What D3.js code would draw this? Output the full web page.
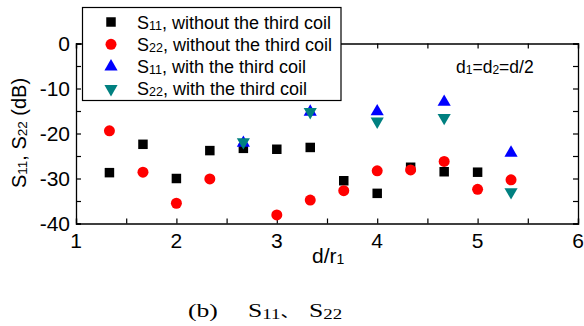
<!DOCTYPE html>
<html>
<head>
<meta charset="utf-8">
<script src="https://cdn.jsdelivr.net/npm/d3@7"></script>
<style>
  body { margin: 0; background: #fff; }
</style>
</head>
<body>
<div id="chart"></div>
<script>
// x positions d/r1
var xS11 = [1.333, 1.667, 2, 2.333, 2.667, 3, 3.333, 3.667, 4, 4.333, 4.667, 5];
var s11Without = [-28.7, -22.4, -30.0, -23.8, -23.3, -23.5, -23.1, -30.5, -33.3, -27.5, -28.5, -28.6];
var xS22 = [1.333, 1.667, 2, 2.333, 3, 3.333, 3.667, 4, 4.333, 4.667, 5, 5.333];
var s22Without = [-19.4, -28.6, -35.5, -30.1, -38.1, -34.8, -32.7, -28.3, -28.1, -26.2, -32.4, -30.3];
var xWith = [2.667, 3.333, 4, 4.667, 5.333];
var s11With = [-22.0, -15.1, -15.0, -12.9, -24.2];
var s22With = [-22.0, -15.3, -17.4, -16.6, -33.1];
var xTicks = [1, 2, 3, 4, 5, 6];
var yTicks = [0, -10, -20, -30, -40];
var legendLabels = [
  ["S", "11", ", without the third coil"],
  ["S", "22", ", without the third coil"],
  ["S", "11", ", with the third coil"],
  ["S", "22", ", with the third coil"]
];

function dotChart(parent, width, height) {
  var _Width = width,
      _Height = height,
      left = 76, right = 578, top = 43.5, bottom = 223.5,
      sans = "'Liberation Sans', Arial, sans-serif",
      serif = "'Liberation Serif', 'Times New Roman', serif";

  var svg = d3.select(parent)
    .append("svg")
    .attr("width", _Width)
    .attr("height", _Height)
    .style("font-family", sans);

  var x = d3.scaleLinear().domain([1, 6]).range([left, right]);
  var y = d3.scaleLinear().domain([-40, 0]).range([bottom, top]);

  // frame, ticks pointing inward on all four sides
  var xt5 = d3.range(1, 6.01, 0.5), yt5 = d3.range(-40, 0.01, 5);
  svg.append("g").attr("transform", "translate(0," + bottom + ")")
    .call(d3.axisBottom(x).tickValues(xt5).tickSize(-5).tickFormat(""));
  svg.append("g").attr("transform", "translate(0," + top + ")")
    .call(d3.axisTop(x).tickValues(xt5).tickSize(-5).tickFormat(""));
  svg.append("g").attr("transform", "translate(" + left + ",0)")
    .call(d3.axisLeft(y).tickValues(yt5).tickSize(-5).tickFormat(""));
  svg.append("g").attr("transform", "translate(" + right + ",0)")
    .call(d3.axisRight(y).tickValues(yt5).tickSize(-5).tickFormat(""));
  svg.selectAll(".domain").attr("stroke", "#000").attr("stroke-width", 1.3);
  svg.selectAll(".tick line").attr("stroke", "#000").attr("stroke-width", 1.2);

  // tick labels
  svg.selectAll(".xl").data(xTicks).enter().append("text")
    .attr("x", function(d) { return x(d); })
    .attr("y", bottom + 24)
    .attr("text-anchor", "middle")
    .attr("font-size", 21)
    .text(function(d) { return d; });
  svg.selectAll(".yl").data(yTicks).enter().append("text")
    .attr("x", left - 6)
    .attr("y", function(d) { return y(d) + 7; })
    .attr("text-anchor", "end")
    .attr("font-size", 21)
    .text(function(d) { return d; });

  // axis titles
  var xt = svg.append("text").attr("x", 312).attr("y", 263).attr("font-size", 21);
  xt.append("tspan").text("d/r");
  xt.append("tspan").attr("font-size", 14).attr("dy", 1).text("1");

  var yt = svg.append("text").attr("transform", "translate(26,133) rotate(-90)")
    .attr("text-anchor", "middle").attr("font-size", 20);
  yt.append("tspan").text("S");
  yt.append("tspan").attr("font-size", 13.5).attr("dy", 1).text("11");
  yt.append("tspan").attr("dy", -1).text(", S");
  yt.append("tspan").attr("font-size", 13.5).attr("dy", 1).text("22");
  yt.append("tspan").attr("dy", -1).text(" (dB)");

  // annotation
  var an = svg.append("text").attr("x", 456).attr("y", 73).attr("font-size", 17.5);
  an.append("tspan").text("d");
  an.append("tspan").attr("font-size", 12).attr("dy", 1).text("1");
  an.append("tspan").attr("dy", -1).text("=d");
  an.append("tspan").attr("font-size", 12).attr("dy", 1).text("2");
  an.append("tspan").attr("dy", -1).text("=d/2");

  var sq = d3.symbol().type(d3.symbolSquare).size(90);
  var ci = d3.symbol().type(d3.symbolCircle).size(95);
  var tri = d3.symbol().type(d3.symbolTriangle).size(75);

  svg.selectAll(".s11w").data(xS11).enter().append("path")
    .attr("d", sq)
    .attr("fill", "#000")
    .attr("transform", function(d, i) { return "translate(" + x(d) + "," + y(s11Without[i]) + ")"; });
  svg.selectAll(".s22w").data(xS22).enter().append("path")
    .attr("d", ci)
    .attr("fill", "#ff0000")
    .attr("transform", function(d, i) { return "translate(" + x(d) + "," + y(s22Without[i]) + ")"; });
  svg.selectAll(".s11t").data(xWith).enter().append("path")
    .attr("d", tri)
    .attr("fill", "#0000ff")
    .attr("transform", function(d, i) { return "translate(" + x(d) + "," + (y(s11With[i]) + 0.5) + ")"; });
  svg.selectAll(".s22t").data(xWith).enter().append("path")
    .attr("d", tri)
    .attr("fill", "#008080")
    .attr("transform", function(d, i) { return "translate(" + x(d) + "," + (y(s22With[i]) - 0.5) + ") rotate(180)"; });

  // legend
  var lg = svg.append("g");
  lg.append("rect").attr("x", 82.5).attr("y", 7.5).attr("width", 258.5).attr("height", 93)
    .attr("fill", "#fff").attr("stroke", "#000").attr("stroke-width", 1.2);
  var markers = [
    { d: sq, fill: "#000", rot: 0 },
    { d: ci, fill: "#ff0000", rot: 0 },
    { d: tri, fill: "#0000ff", rot: 0 },
    { d: tri, fill: "#008080", rot: 180 }
  ];
  legendLabels.forEach(function(l, i) {
    var cy = 22 + i * 22.3;
    lg.append("path").attr("d", markers[i].d).attr("fill", markers[i].fill)
      .attr("transform", "translate(111," + cy + ") rotate(" + markers[i].rot + ")");
    var t = lg.append("text").attr("x", 137).attr("y", cy + 6.5).attr("font-size", 18);
    t.append("tspan").text(l[0]);
    t.append("tspan").attr("font-size", 12.5).attr("dy", 1).text(l[1]);
    t.append("tspan").attr("dy", -1).text(l[2]);
  });

  // caption (the source figure is stretched horizontally)
  var cg = svg.append("g").attr("transform", "translate(188,317) scale(1.35,1)");
  var cap = cg.append("text").style("font-family", serif).attr("font-size", 19);
  cap.append("tspan").attr("x", 0).text("(b)");
  cap.append("tspan").attr("x", 44.4).text("S");
  cap.append("tspan").attr("font-size", 14).attr("dy", 2).text("11");
  cap.append("tspan").attr("dy", -2).style("font-family", "'Noto Sans CJK SC', serif").attr("font-size", 14).text("\u3001");
  cap.append("tspan").attr("x", 89.6).text("S");
  cap.append("tspan").attr("font-size", 14).attr("dy", 2).text("22");

  return dotChart;
}

dotChart("#chart", 584, 326);
</script>
</body>
</html>
